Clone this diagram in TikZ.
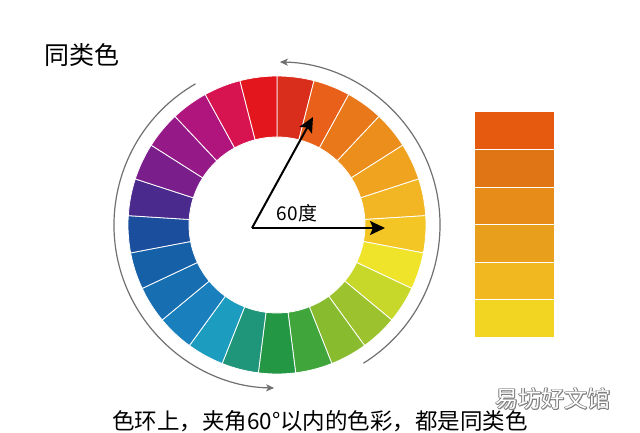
\documentclass[tikz,border=0pt]{standalone}
\usepackage{fontspec}
\setmainfont{Noto Sans CJK SC}
\usetikzlibrary{arrows.meta}
\definecolor{s1}{HTML}{DA2E1C}
\definecolor{s2}{HTML}{E8601A}
\definecolor{s3}{HTML}{E8781A}
\definecolor{s4}{HTML}{EB8E1C}
\definecolor{s5}{HTML}{EFA31F}
\definecolor{s6}{HTML}{F2B624}
\definecolor{s7}{HTML}{F3C525}
\definecolor{s8}{HTML}{F0E42B}
\definecolor{s9}{HTML}{C8D82B}
\definecolor{s10}{HTML}{9CC22E}
\definecolor{s11}{HTML}{88BB2E}
\definecolor{s12}{HTML}{40A63C}
\definecolor{s13}{HTML}{249744}
\definecolor{s14}{HTML}{1F957A}
\definecolor{s15}{HTML}{1C9CBF}
\definecolor{s16}{HTML}{1A7FBD}
\definecolor{s17}{HTML}{176EB0}
\definecolor{s18}{HTML}{1660A8}
\definecolor{s19}{HTML}{1B4E9D}
\definecolor{s20}{HTML}{4B2A8D}
\definecolor{s21}{HTML}{7A1E8C}
\definecolor{s22}{HTML}{951A88}
\definecolor{s23}{HTML}{B0157E}
\definecolor{s24}{HTML}{D71350}
\definecolor{s25}{HTML}{E3161E}
\definecolor{w1}{HTML}{E65A10}
\definecolor{w2}{HTML}{E07515}
\definecolor{w3}{HTML}{E78C18}
\definecolor{w4}{HTML}{E8A01C}
\definecolor{w5}{HTML}{F2B81F}
\definecolor{w6}{HTML}{F2D523}
\definecolor{arcgray}{HTML}{707070}
\tikzset{
  segment/.style={draw=white, line width=0.8pt},
  swatch/.style={draw=white, line width=0.8pt},
  blackarrow/.style={line width=2pt, -{Stealth[length=15pt,width=14pt,inset=3pt]}},
  grayarc/.style={draw=arcgray, line width=1.2pt, -{Stealth[length=8pt,width=7pt,inset=2pt]}},
}
\begin{document}
\begin{tikzpicture}[x=1pt,y=1pt]
\useasboundingbox (0,0) rectangle (640,432);
\fill[white] (0,0) rectangle (640,432);
\coordinate (c) at (277,207);
\coordinate (o) at (252,204);
\coordinate (tipA) at (313,315);
\coordinate (tipB) at (385,204);
% colour ring
\begin{scope}[shift={(277,207)}]
\foreach \k in {1,...,25}{
  \pgfmathsetmacro\aa{90-14.4*(\k-1)}
  \pgfmathsetmacro\ab{90-14.4*\k}
  \filldraw[segment, fill=s\k] (\aa:149) arc[start angle=\aa, end angle=\ab, radius=149]
    -- (\ab:88) arc[start angle=\ab, end angle=\aa, radius=88] -- cycle;
}
\draw[grayarc] (120:163) arc[start angle=120, end angle=269, radius=163];
\draw[grayarc] (-58:163) arc[start angle=-58, end angle=89, radius=163];
\end{scope}
% arrows
\draw[blackarrow] (o) -- (tipA);
\draw[blackarrow] (o) -- (tipB);
\node[font=\fontsize{19}{21}\selectfont] (deg) at (297,219) {60度};
% swatches
\foreach \i in {1,...,6}{
  \filldraw[swatch, fill=w\i] (474,{320.3-37.6*(\i-1)}) rectangle (554,{320.3-37.6*\i});
}
% texts
\node[font=\fontsize{25}{29}\selectfont] (title) at (82,377) {同类色};
\node[font=\fontsize{22.5}{26}\selectfont] (caption) at (320,11) {色环上，夹角60°以内的色彩，都是同类色};
\foreach \dx/\dy [count=\n] in {0.7/0,-0.7/0,0/0.7,0/-0.7,0.5/0.5,-0.5/0.5,0.5/-0.5,-0.5/-0.5}{
  \node[font=\fontsize{23}{26}\selectfont, text=gray] (wm\n) at (553+\dx,33+\dy) {易坊好文馆};
}
\node[font=\fontsize{23}{26}\selectfont, text=white] (wm) at (553,33) {易坊好文馆};
\end{tikzpicture}
\end{document}
